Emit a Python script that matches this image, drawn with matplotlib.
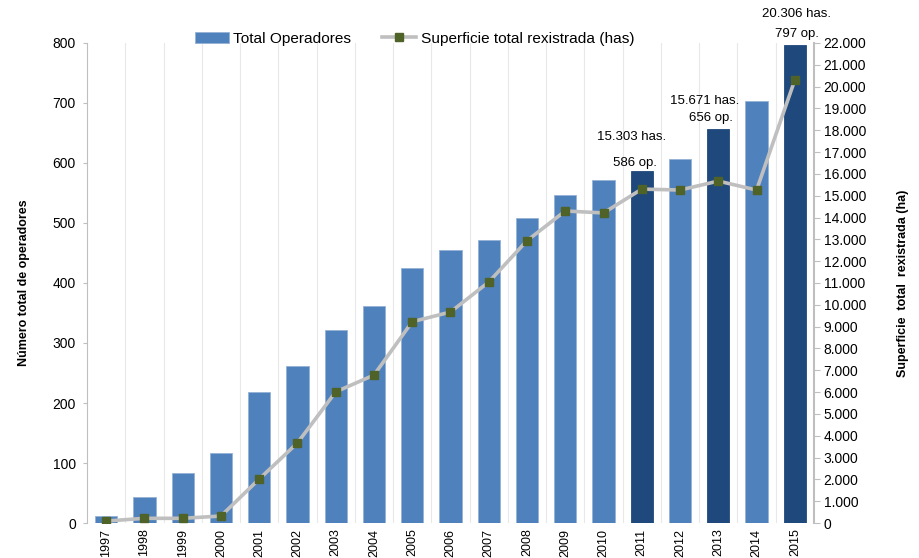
import matplotlib.pyplot as plt
import numpy as np

plt.rcParams['font.family'] = ['Liberation Sans', 'DejaVu Sans']

anos = ['1997', '1998', '1999', '2000', '2001', '2002', '2003', '2004', '2005', '2006',
        '2007', '2008', '2009', '2010', '2011', '2012', '2013', '2014', '2015']
operadores = [11, 43, 84, 116, 218, 261, 322, 361, 425, 455,
              471, 509, 546, 572, 586, 606, 656, 703, 797]
superficie = [90, 215, 215, 320, 2015, 3670, 6010, 6780, 9225, 9670,
              11045, 12940, 14300, 14210, 15303, 15260, 15671, 15260, 20306]
destacados = ['2011', '2013', '2015']

def miles(v):
    return f'{v:,.0f}'.replace(',', '.')

x = np.arange(len(anos))
cores = ['#1F497D' if a in destacados else '#4F81BD' for a in anos]

fig = plt.figure(figsize=(9.19, 5.58), dpi=100)
ax = fig.add_axes([0.0947, 0.0627, 0.791, 0.8603])
ax2 = ax.twinx()

barras = ax.bar(x, operadores, width=0.58, color=cores, edgecolor='#95B3D7',
                linewidth=0.6, zorder=2, label='Total Operadores')
for b, a in zip(barras, anos):
    if a in destacados:
        b.set_edgecolor(b.get_facecolor())

linha, = ax2.plot(x, superficie, color='#BFBFBF', linewidth=2.6, marker='s',
                  markersize=5.5, markerfacecolor='#4F6228', markeredgecolor='#4F6228',
                  zorder=3, label='Superficie total rexistrada (has)')

ax.set_xlim(-0.5, len(anos) - 0.5)
ax.set_ylim(0, 800)
ax2.set_ylim(0, 22000)
ax.set_yticks(range(0, 801, 100))
ax2.set_yticks(range(0, 22001, 1000))
ax2.set_yticklabels([miles(v) for v in range(0, 22001, 1000)])
ax.set_xticks(x)
ax.set_xticklabels(anos, rotation=90, fontsize=9)
ax.tick_params(axis='y', labelsize=10, length=3, color='#BFBFBF', pad=5)
ax2.tick_params(axis='y', labelsize=10, length=4, color='#BFBFBF', pad=3)
ax.tick_params(axis='x', length=0, pad=4)

# lineas verticais entre categorias
for xb in np.arange(-0.5, len(anos) - 0.5, 1.0)[1:]:
    ax.axvline(xb, color='#E8E8E8', linewidth=0.8, zorder=0)

for s in ['top', 'bottom']:
    ax.spines[s].set_visible(False)
    ax2.spines[s].set_visible(False)
ax.spines['right'].set_visible(False)
ax.spines['left'].set_color('#BFBFBF')
ax2.spines['left'].set_visible(False)
ax2.spines['right'].set_color('#BFBFBF')
ax2.spines['right'].set_linewidth(1.5)

ax.set_ylabel('Número total de operadores', fontsize=9, fontweight='bold', labelpad=16)
ax2.set_ylabel('Superficie  total  rexistrada (ha)', fontsize=9, fontweight='bold', labelpad=22)

ax.set_zorder(ax2.get_zorder() - 1)
ax2.patch.set_visible(False)

# etiquetas dos anos destacados (desprazamento en pixels: op. e has.)
desprazamentos = {'2011': ((-7, 8), (-10, 34)),
                  '2013': ((-7, 11), (-14, 28)),
                  '2015': ((2, 11), (2, 31))}
for a in destacados:
    i = anos.index(a)
    (oxo, oyo), (oxh, oyh) = desprazamentos[a]
    ax.annotate(f'{operadores[i]} op.', (x[i], operadores[i]), xytext=(oxo, oyo),
                textcoords='offset pixels', ha='center', va='center', fontsize=9.5)
    ax.annotate(f'{miles(superficie[i])} has.', (x[i], operadores[i]), xytext=(oxh, oyh),
                textcoords='offset pixels', ha='center', va='center', fontsize=9.5)

fig.legend(handles=[barras, linha], loc='center', bbox_to_anchor=(0.451, 0.931), ncol=2,
           frameon=False, fontsize=11.1, handlelength=2.2, columnspacing=2.0,
           handletextpad=0.3)

fig.savefig('out.png', dpi=100)
